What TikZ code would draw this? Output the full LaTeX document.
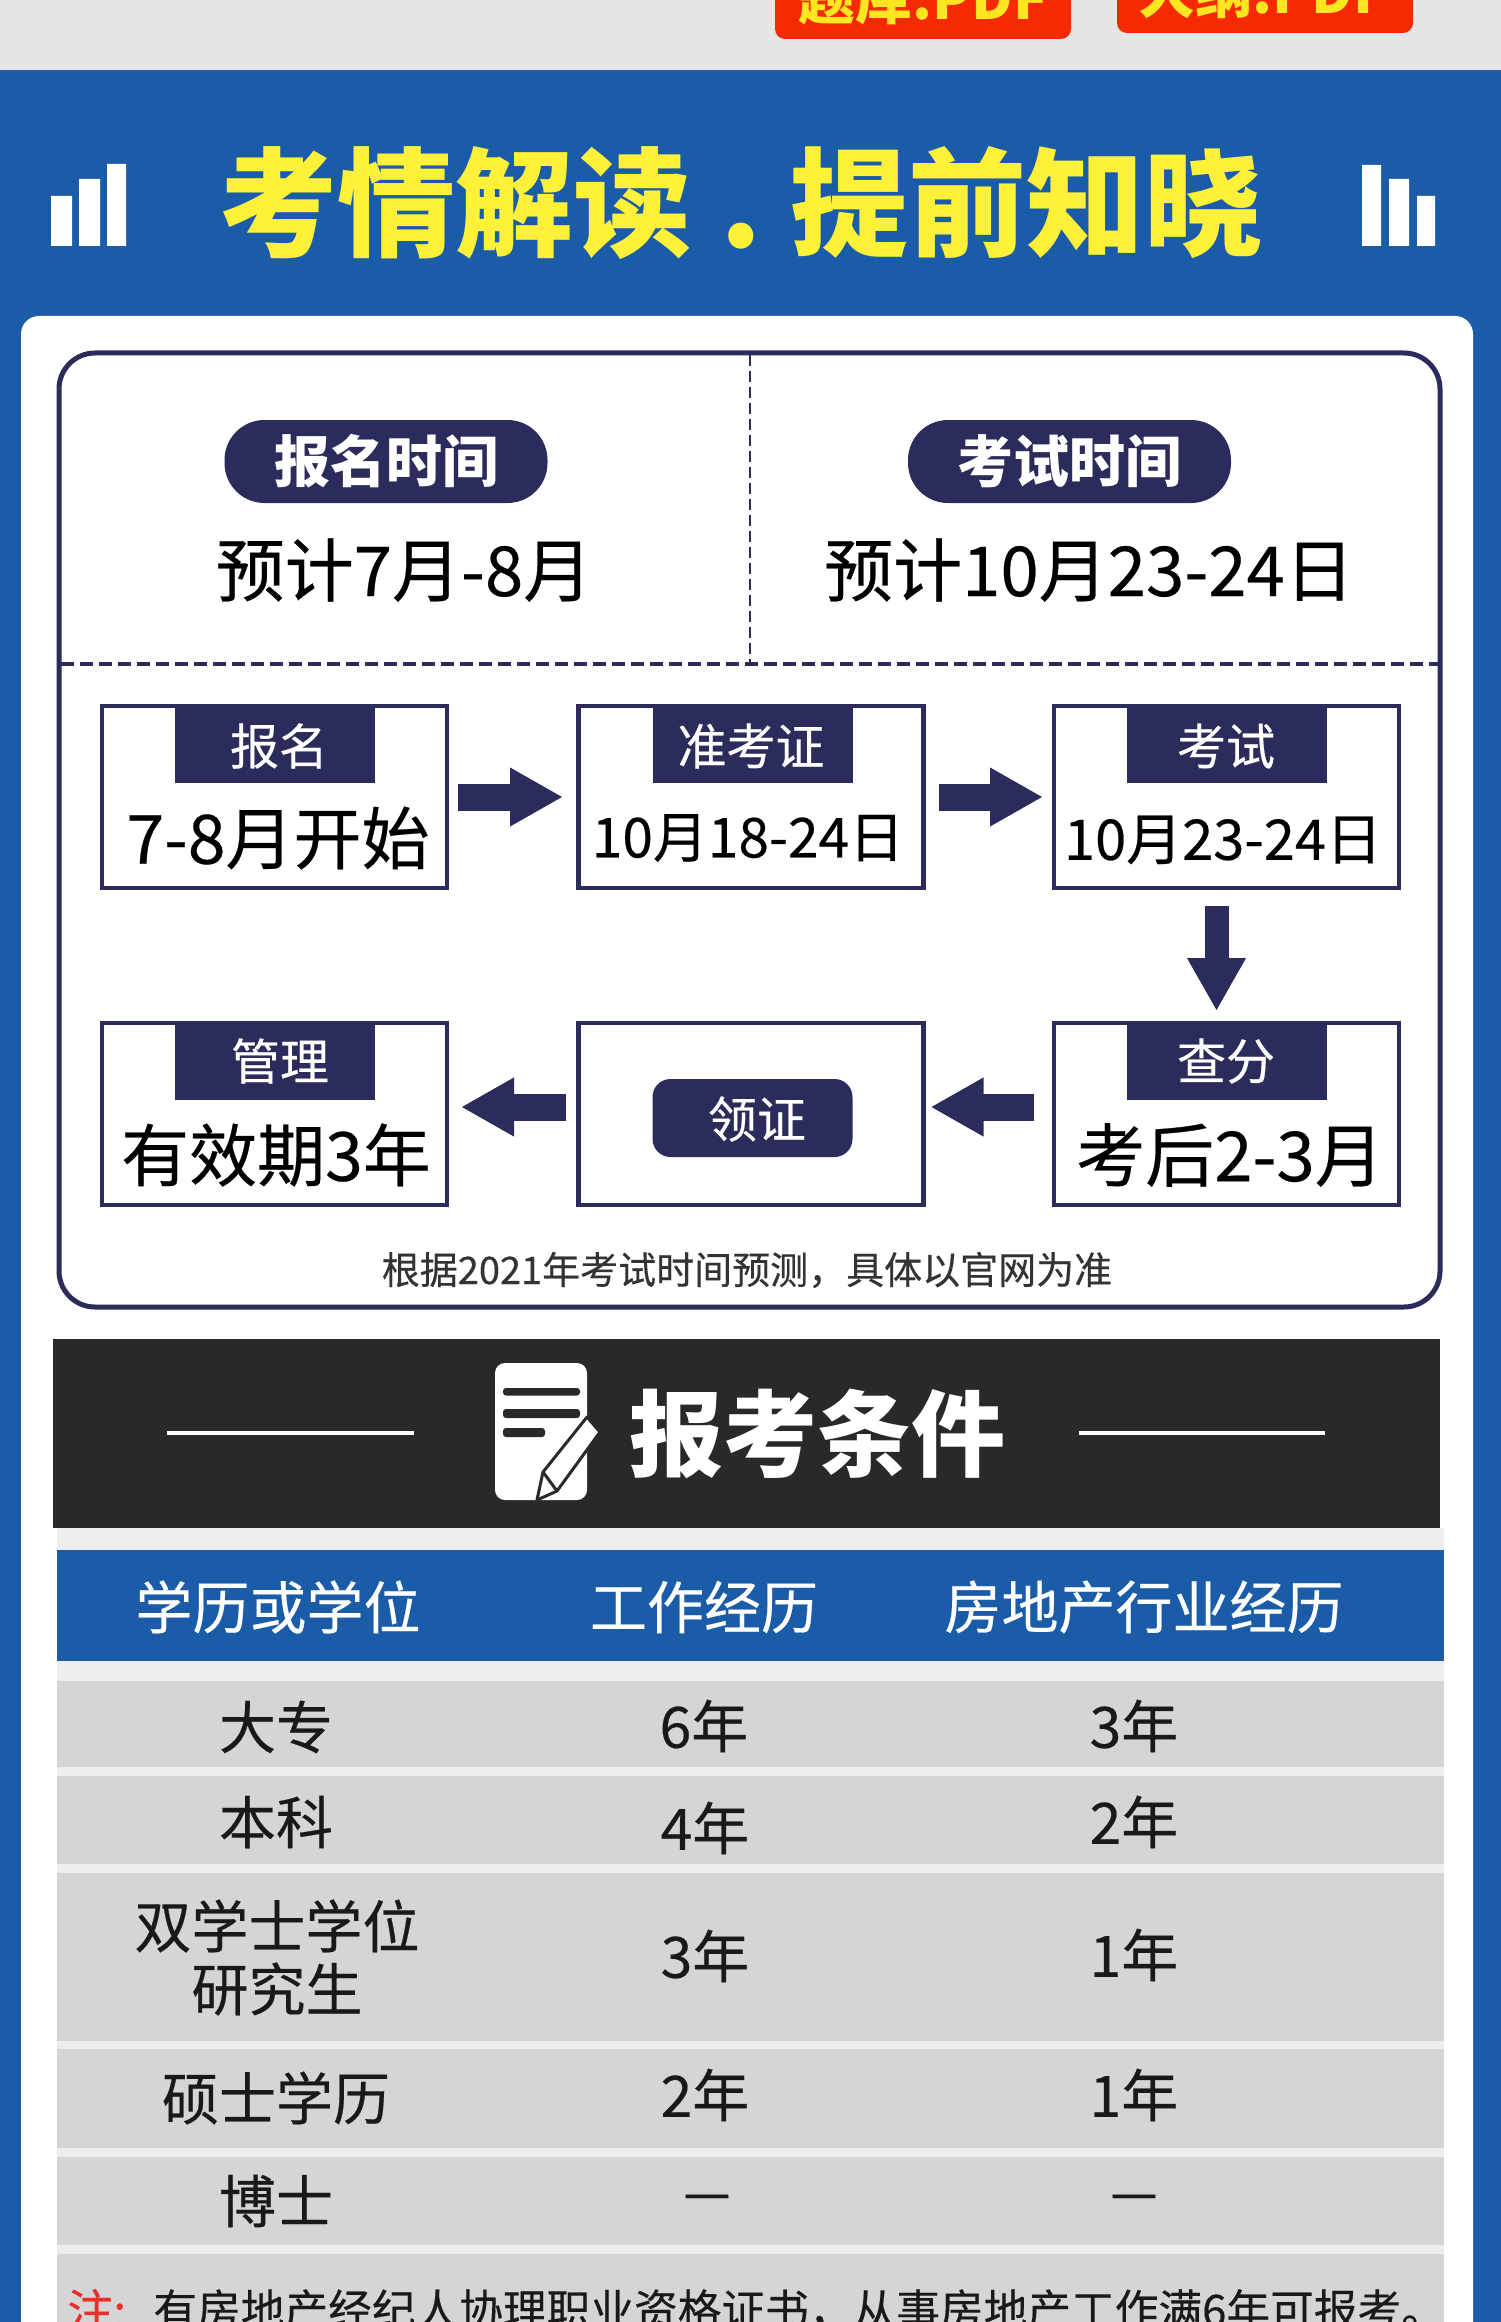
\documentclass[tikz,border=0pt]{standalone}
\usepackage{fontspec}
\setmainfont{Noto Sans CJK SC}[UprightFeatures={FakeBold=0.35}]
\usetikzlibrary{arrows.meta,calc}
\definecolor{bandblue}{HTML}{1A5CA8}
\definecolor{navy}{HTML}{2C2C5C}
\definecolor{topgrey}{HTML}{E5E6E5}
\definecolor{btnred}{HTML}{F52A00}
\definecolor{btnyellow}{HTML}{FFE620}
\definecolor{titleyellow}{HTML}{FFF03A}
\definecolor{darkband}{HTML}{292929}
\definecolor{rowgrey}{HTML}{D5D5D5}
\definecolor{gapgrey}{HTML}{EDEDED}
\definecolor{notered}{HTML}{E8302A}
\newdimen\fsd
\newcommand\fs[1]{\fsd=#1pt \fsd=0.5\fsd \fontsize{\the\fsd}{\the\fsd}\selectfont}
\tikzset{
  txt/.style={inner sep=0pt,outer sep=0pt,anchor=center},
  pillbox/.style={txt,fill=navy,text=white,rounded corners=20pt,font=\fs{56}\bfseries,minimum width=161.5pt,minimum height=41.5pt},
  flowbox/.style={draw=navy,line width=2.25pt,fill=white,inner sep=0pt,outer sep=0pt,minimum width=172.5pt,minimum height=91pt},
  hdrfill/.style={fill=navy,inner sep=0pt,minimum width=100pt,minimum height=38.5pt},
  hdrtext/.style={txt,text=white,font=\fs{49}},
  valtext/.style={txt,text=black},
  flowarrow/.style={navy,line width=13.5pt,line cap=butt,-{Triangle[length=26.5pt,width=27.5pt,sep=0pt]}},
  hcell/.style={txt,text=white,font=\fs{57}},
  cell/.style={txt,text=black!90,font=\fs{57}},
}
\begin{document}
\begin{tikzpicture}[x=0.5pt,y=-0.5pt]
\useasboundingbox (0,0) rectangle (1500,2322);
\clip (-6,-6) rectangle (1506,2328);
% backgrounds
\fill[topgrey] (-6,-6) rectangle (1506,71);
\fill[bandblue] (-6,70) rectangle (1506,2328);
% buttons
\fill[btnred,rounded corners=5pt] (775,-30) rectangle (1071,39);
\fill[btnred,rounded corners=5pt] (1117,-30) rectangle (1413,33);
\node[anchor=base,inner sep=0pt,text=btnyellow,font=\fs{57}\bfseries] (btna) at (923,20) {题库.PDF};
\node[anchor=base,inner sep=0pt,text=btnyellow,font=\fs{57}\bfseries] (btnb) at (1263,14) {大纲.PDF};
% title
\fill[white] (51,196) rectangle (72,246) (79,179) rectangle (100,246) (107,164) rectangle (126,246);
\fill[white] (1362,165) rectangle (1381,246) (1389,179) rectangle (1409,246) (1417,196) rectangle (1435,246);
\node[txt,text=titleyellow,font=\fs{118}\bfseries] (title) at (741,203) {考情解读\hspace{14.3pt}.\hspace{14.3pt}提前知晓};
% card
\fill[white,rounded corners=9pt] (21,316) rectangle (1473,2400);
\draw[navy,line width=2.5pt,rounded corners=18pt] (59,353) rectangle (1440,1307);
\draw[navy,line width=1.4pt,dash pattern=on 5.5pt off 2.5pt] (750,355) -- (750,664);
\draw[navy,line width=1.75pt,dash pattern=on 6.5pt off 3pt] (61,664) -- (1438,664);
% top pills
\node[pillbox] (pa) at (386,461.5) {报名时间};
\node[pillbox] (pb) at (1069.5,461.5) {考试时间};
\node[valtext,font=\fs{69}] (va) at (404,570) {预计7月-8月};
\node[valtext,font=\fs{69}] (vb) at (1089,570) {预计10月23-24日};
% flow boxes
\node[flowbox] (b1) at (274.5,797) {};
\node[flowbox] (b2) at (751,797) {};
\node[flowbox] (b3) at (1226.5,797) {};
\node[flowbox] (b4) at (1226.5,1114) {};
\node[flowbox] (b5) at (751,1114) {};
\node[flowbox] (b6) at (274.5,1114) {};
\node[hdrfill] (h1) at (275,744.5) {};
\node[hdrfill] (h2) at (752.5,744.5) {};
\node[hdrfill] (h3) at (1226.5,744.5) {};
\node[hdrfill] (h4) at (1226.5,1061.5) {};
\node[hdrfill] (h6) at (275,1061.5) {};
\node[hdrtext] (t1) at (279,746) {报名};
\node[hdrtext] (t2) at (751,746) {准考证};
\node[hdrtext] (t3) at (1226,746) {考试};
\node[hdrtext] (t4) at (1226,1061) {查分};
\node[hdrtext] (t6) at (280,1061) {管理};
\node[txt,fill=navy,rounded corners=9pt,minimum width=100pt,minimum height=39pt] (h5) at (752.5,1118) {};
\node[hdrtext] (t5) at (757,1119) {领证};
\node[valtext,font=\fs{68}] (c1) at (278,838) {7-8月开始};
\node[valtext,font=\fs{55}] (c2) at (748,838) {10月18-24日};
\node[valtext,font=\fs{56}] (c3) at (1223,840) {10月23-24日};
\node[valtext,font=\fs{69}] (c4) at (1230,1155) {考后2-3月};
\node[valtext,font=\fs{68}] (c6) at (276,1155) {有效期3年};
% arrows
\draw[flowarrow] ($(b1.east)+(11,0)$) -- ($(b2.west)+(-15.5,0)$);
\draw[flowarrow] ($(b2.east)+(15.5,0)$) -- ($(b3.west)+(-11,0)$);
\draw[flowarrow,line width=12pt] ($(b3.south)+(-10,18)$) -- ($(b4.north)+(-10,-12)$);
\draw[flowarrow] ($(b4.west)+(-20,-7)$) -- ($(b5.east)+(7,-7)$);
\draw[flowarrow] ($(b5.west)+(-12.5,-7)$) -- ($(b6.east)+(14,-7)$);
\node[txt,text=black!80,font=\fs{38}] (fn) at (747,1270) {根据2021年考试时间预测，具体以官网为准};
% dark band
\fill[darkband] (53,1339) rectangle (1440,1528);
\draw[white,line width=1.75pt] (167,1433) -- (414,1433);
\draw[white,line width=1.75pt] (1079,1433) -- (1325,1433);
\fill[white,rounded corners=5pt] (495,1363) rectangle (587,1500);
\fill[darkband,rounded corners=1.5pt] (503,1388) rectangle (580,1395.5) (503,1409) rectangle (580,1418) (503,1428) rectangle (545,1437);
\draw[darkband,fill=white,line width=1.5pt,line join=round] (587,1417) -- (600,1432) -- (557,1491) -- (537,1500) -- (543,1472) -- cycle;
\draw[darkband,line width=1.5pt] (543,1472) -- (557,1491);
\node[txt,text=white,font=\fs{94}\bfseries] (cond) at (817,1434) {报考条件};
% table
\fill[gapgrey] (57,1528) rectangle (1444,2328);
\fill[bandblue] (57,1550) rectangle (1444,1661);
\fill[rowgrey] (57,1681) rectangle (1444,1767);
\fill[rowgrey] (57,1776) rectangle (1444,1864);
\fill[rowgrey] (57,1873) rectangle (1444,2041);
\fill[rowgrey] (57,2049) rectangle (1444,2148);
\fill[rowgrey] (57,2157) rectangle (1444,2245);
\fill[rowgrey] (57,2254) rectangle (1444,2328);
\node[hcell] (ha) at (278,1607) {学历或学位};
\node[hcell] (hb) at (704,1607) {工作经历};
\node[hcell] (hc) at (1144,1607) {房地产行业经历};
\node[cell] (r1a) at (276,1727) {大专};
\node[cell] (r1b) at (704,1726) {6年};
\node[cell] (r1c) at (1134,1726) {3年};
\node[cell] (r2a) at (276,1822) {本科};
\node[cell] (r2b) at (705,1828) {4年};
\node[cell] (r2c) at (1134,1822) {2年};
\node[cell] (r3a) at (277,1926) {双学士学位};
\node[cell] (r3d) at (277,1989) {研究生};
\node[cell] (r3b) at (705,1956) {3年};
\node[cell] (r3c) at (1134,1955) {1年};
\node[cell] (r4a) at (276,2098) {硕士学历};
\node[cell] (r4b) at (705,2095) {2年};
\node[cell] (r4c) at (1134,2095) {1年};
\node[cell] (r5a) at (276,2201) {博士};
\node[cell,font=\fs{53}] (r5b) at (707,2203) {—};
\node[cell,font=\fs{53}] (r5c) at (1134,2203) {—};
\node[anchor=west,inner sep=0pt,text=notered,font=\fs{46}] (nt) at (67,2310) {注:};
\node[anchor=west,inner sep=0pt,text=black!90,font=\fs{43.7}] (nb) at (153,2310) {有房地产经纪人协理职业资格证书，从事房地产工作满6年可报考。};
\end{tikzpicture}
\end{document}
